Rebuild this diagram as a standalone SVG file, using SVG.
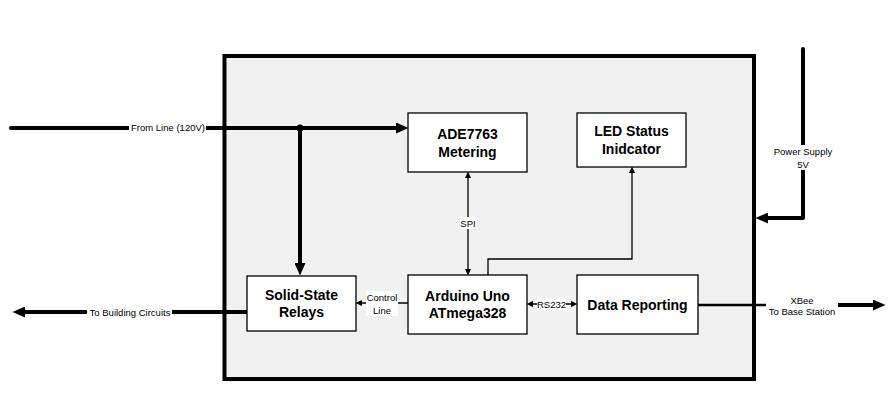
<svg xmlns="http://www.w3.org/2000/svg" width="895" height="405" viewBox="0 0 895 405">
<style>
.node rect{fill:#fff;stroke:#000;stroke-width:1.3}
.bt{font-family:"Liberation Sans",Arial,sans-serif;font-weight:bold;font-size:14px;text-anchor:middle;fill:#000}
.lt{font-family:"Liberation Sans",Arial,sans-serif;font-size:9.5px;text-anchor:middle;fill:#000}
.thick{fill:none;stroke:#000;stroke-width:4}
.thin{fill:none;stroke:#000;stroke-width:1.3}
.lbg{fill:#fff;stroke:none}
.lbgg{fill:#f1f1f1;stroke:none}
</style>
<defs>
<marker id="big" markerUnits="userSpaceOnUse" markerWidth="13" markerHeight="11" refX="6" refY="5.5" orient="auto-start-reverse"><path d="M0,0 L12.5,5.5 L0,11 z" fill="#000"/></marker>
<marker id="sm" markerUnits="userSpaceOnUse" markerWidth="7" markerHeight="6" refX="4" refY="3" orient="auto-start-reverse"><path d="M0,0 L6.5,3 L0,6 z" fill="#000"/></marker>
</defs>
<rect width="895" height="405" fill="#fff"/>
<g id="enclosure"><rect x="224.5" y="56" width="529.5" height="323" fill="#f1f1f1" stroke="#000" stroke-width="4"/></g>
<g id="connectors">
<path class="thick" d="M11,128 H402" stroke-linecap="round" marker-end="url(#big)"/>
<circle cx="300" cy="128" r="3.5" fill="#000"/>
<path class="thick" d="M300,128 V269" marker-end="url(#big)"/>
<path class="thick" d="M247,312 H19" marker-end="url(#big)"/>
<path class="thin" d="M468,174 V273" marker-start="url(#sm)" marker-end="url(#sm)"/>
<path class="thin" d="M488,275 V259 H632 V169" marker-end="url(#sm)"/>
<path class="thin" d="M408,303 H358" marker-end="url(#sm)"/>
<path class="thin" d="M529,304 H575" marker-start="url(#sm)" marker-end="url(#sm)"/>
<path fill="none" stroke="#000" stroke-width="2.5" d="M698,305 H790"/>
<path class="thick" d="M800,305 H879" marker-end="url(#big)"/>
<path class="thick" d="M803,49 V218 H762" stroke-linecap="round" stroke-linejoin="round" marker-end="url(#big)"/>
<rect class="lbg" x="129" y="122" width="77" height="12"/>
<text class="lt" x="168" y="131.3">From Line (120V)</text>
<rect class="lbg" x="87" y="306" width="85" height="12"/>
<text class="lt" x="130" y="315.5">To Building Circuits</text>
<rect class="lbg" x="460" y="217" width="16" height="12"/>
<text class="lt" x="468" y="226.5">SPI</text>
<rect class="lbg" x="366" y="291" width="32" height="25"/>
<text class="lt" x="382" y="300.7">Control</text>
<text class="lt" x="382" y="313.5">Line</text>
<rect class="lbg" x="537" y="298" width="29" height="12"/>
<text class="lt" x="551.5" y="307.5">RS232</text>
<rect class="lbg" x="766" y="294" width="72" height="24"/>
<text class="lt" x="802" y="303.5">XBee</text>
<text class="lt" x="802" y="314.5">To Base Station</text>
<rect class="lbg" x="772" y="145" width="62" height="25"/>
<text class="lt" x="803" y="155">Power Supply</text>
<text class="lt" x="803" y="167.5">5V</text>
</g>
<g id="ade7763" class="node"><rect x="408" y="113" width="119" height="59"/><text class="bt" x="467.5" y="139.3">ADE7763</text><text class="bt" x="467.5" y="156.7">Metering</text></g>
<g id="led" class="node"><rect x="577" y="113" width="109" height="54"/><text class="bt" x="631.5" y="135.7">LED Status</text><text class="bt" x="631.5" y="154">Inidcator</text></g>
<g id="relays" class="node"><rect x="247" y="276" width="109" height="55"/><text class="bt" x="301.5" y="300">Solid-State</text><text class="bt" x="301.5" y="316.7">Relays</text></g>
<g id="arduino" class="node"><rect x="408" y="275" width="119" height="59"/><text class="bt" x="467.5" y="301">Arduino Uno</text><text class="bt" x="467.5" y="318">ATmega328</text></g>
<g id="reporting" class="node"><rect x="577" y="275" width="121" height="59"/><text class="bt" x="637.5" y="310">Data Reporting</text></g>
</svg>
